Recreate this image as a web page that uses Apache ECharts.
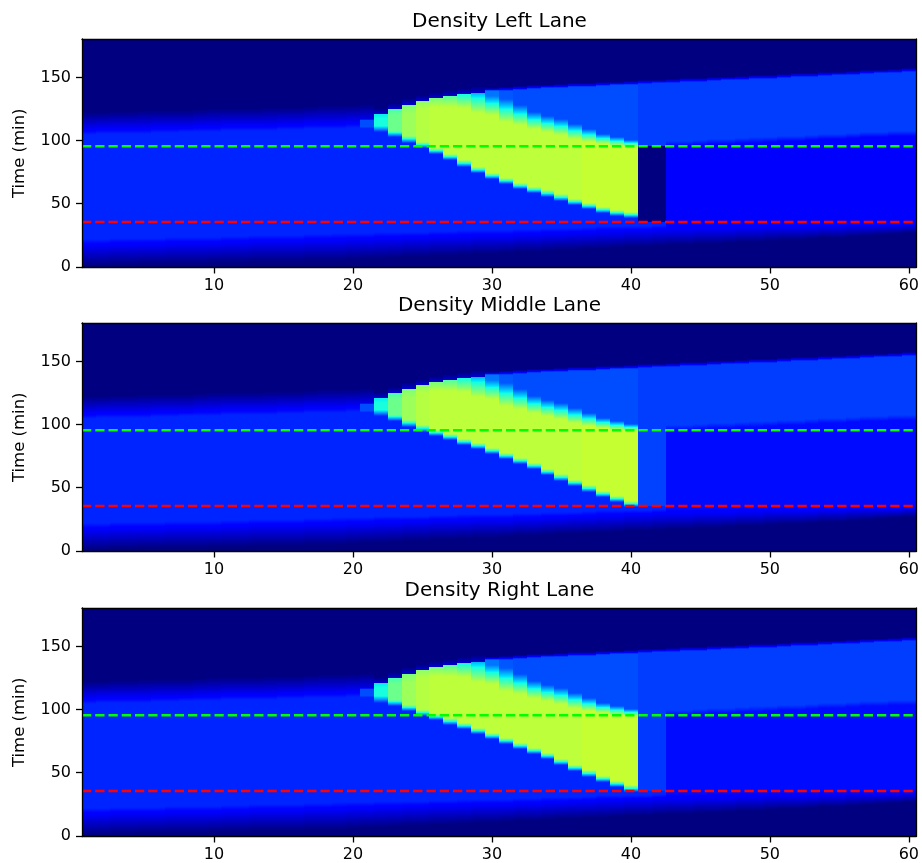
<!DOCTYPE html>
<html>
<head>
<meta charset="utf-8">
<title>Density per lane</title>
<script src="https://cdn.jsdelivr.net/npm/echarts@6.0.0/dist/echarts.min.js"></script>
<style>
  html, body { margin: 0; padding: 0; background: #fff; }
  #chart { width: 922px; height: 863px; }
</style>
</head>
<body>
<div id="chart"></div>
<script>
// titles and ticks
var laneTitles = ["Density Left Lane", "Density Middle Lane", "Density Right Lane"];
var xTicks = [10, 20, 30, 40, 50, 60];
var yTicks = [0, 50, 100, 150];

// dashed reference times (min)
var upperLine = 95.5;
var lowerLine = 35.5;

// density levels (0..1 on the jet scale)
var freeFlow = 0.16;
var dischargeFlow = 0.185;
var laneGap = [0, 0.19, 0.18];        // cells 41-42 between the dashed lines
var laneDown = [0.125, 0.135, 0.135]; // cells 43-60 below the discharge wave

// cells 1..60 : time where the bottom stays dark / where free flow is reached
var bottomNavy = [1, 1, 1.5, 1.5, 2, 2, 2, 2.5, 2.5, 3,
  3, 3, 3.5, 3.5, 4, 4, 4.5, 5, 5, 5.5,
  6, 6.5, 7, 7.5, 8, 8.5, 9, 9.5, 10, 10.5,
  11, 11.5, 12, 12.5, 13, 13.5, 14, 14.5, 15, 15.5,
  16, 16.5, 17, 17.5, 18, 18.5, 19, 19.5, 20, 20.5,
  21, 21.5, 22, 22.5, 23, 24, 24.5, 25, 26, 27];
var bottomFull = [22, 22, 22.5, 22.5, 23, 23, 23.5, 23.5, 24, 24,
  24.5, 24.5, 25, 25, 25.5, 25.5, 26, 26, 26.5, 27,
  27, 27.5, 27.5, 28, 28, 28.5, 28.5, 29, 29, 29.5,
  29.5, 30, 30, 30.5, 31, 31, 31.5, 32, 32, 32.5,
  32.5, 33, 33, 33.5, 33.5, 34, 34, 34.5, 34.5, 35,
  35, 35, 35, 35.5, 35.5, 35.5, 35.5, 35.5, 35.5, 35.5];

// cells 1..21 : end of free flow at the top, and where it is dark again
var freeTopStart = [104.5, 105, 105, 105.5, 105.5, 106, 106, 106.5, 106.5, 107,
  107.5, 107.5, 108, 108, 108.5, 108.5, 109, 109, 109.5, 110, 110];
var freeTopEnd = [123, 123, 123.5, 123.5, 124, 124, 124.5, 124.5, 125, 125.5,
  125.5, 126, 126, 126.5, 127, 127, 127.5, 128, 128, 128.5, 129];
// small patch in cell 21
var bumpStart = 111, bumpEnd = 116.5, bumpValue = 0.2;

// cells 22..60 : upper edge of the jam / discharge wave
var queueTop = [121, 125, 128.5, 131.5, 133.5, 135.3, 136.8, 138, 139,
  139.7, 140.3, 140.8, 141.3, 141.8, 142.3, 142.8, 143.3, 143.8, 144.3,
  144.8, 145.3, 145.8, 146.3, 146.8, 147.3, 147.7, 148.2, 148.7, 149.2,
  149.7, 150.2, 150.7, 151.2, 151.7, 152.2, 152.7, 153.2, 153.7, 154.2];

// cells 22..40 : lower edge of the jam, per lane
var queueBottom = [
  [109, 105, 101, 96.5, 92, 87, 82, 77, 72, 68, 64, 61, 58, 55, 51.5, 48, 45, 42.5, 41],
  [109, 105, 101, 97, 93.5, 90, 86.5, 83, 79, 75, 71, 67, 62.5, 58, 53.5, 49.5, 45, 41, 37],
  [108, 105.5, 101.5, 97.5, 94, 90.5, 87, 83, 79, 75, 71, 67, 63, 58.5, 54, 49.5, 45, 41, 37.5]
];
// cells 22..40 : jam level, level at its top, and where/how wide it fades
var queuePeak = [0.38, 0.48, 0.54, 0.57, 0.58, 0.58, 0.58, 0.58, 0.58,
  0.58, 0.58, 0.58, 0.58, 0.58, 0.58, 0.59, 0.59, 0.59, 0.59];
var queueCap = [0.36, 0.44, 0.5, 0.52, 0.5, 0.45, 0.38, 0.3, 0.24,
  0.21, 0.2, 0.2, 0.2, 0.2, 0.2, 0.2, 0.2, 0.2, 0.2];
var capMid = [118, 122, 125, 128, 130, 131, 131, 130, 127.5,
  124, 120, 116, 113.3, 110.6, 107.3, 104, 101.3, 99.4, 97.4];
var capHalf = [2, 2, 3, 3, 3, 4, 5, 8, 7.5,
  9, 8, 6.5, 6.5, 6.5, 6, 5.3, 4, 3.3, 2.7];

// cells 43..60 : lower edge of the discharge wave
var dischargeLow = [95.5, 96, 96.5, 97, 97.5, 98, 98.5, 99, 99.5,
  100, 100.5, 101, 101.5, 102, 102.5, 103, 103.5, 104];

var FONT = "DejaVu Sans";

// matplotlib jet
var JET = {
  r: [[0, 0], [0.35, 0], [0.66, 1], [0.89, 1], [1, 0.5]],
  g: [[0, 0], [0.125, 0], [0.375, 1], [0.64, 1], [0.91, 0], [1, 0]],
  b: [[0, 0.5], [0.11, 1], [0.34, 1], [0.65, 0], [1, 0]]
};
var BREAKS = [0.11, 0.125, 0.34, 0.35, 0.375, 0.64, 0.65, 0.66, 0.89, 0.91];

function chan(pts, v) {
  for (var i = 1; i < pts.length; i++) {
    if (v <= pts[i][0]) {
      var a = pts[i - 1], b = pts[i];
      return a[1] + (b[1] - a[1]) * (v - a[0]) / (b[0] - a[0]);
    }
  }
  return pts[pts.length - 1][1];
}
function jet(v) {
  v = Math.max(0, Math.min(1, v));
  return "rgb(" + Math.round(255 * chan(JET.r, v)) + "," +
    Math.round(255 * chan(JET.g, v)) + "," + Math.round(255 * chan(JET.b, v)) + ")";
}
// v0 at the bottom of the cell, v1 at its top
function fillFor(v0, v1) {
  if (Math.abs(v1 - v0) < 1e-6) return jet(v0);
  var lo = Math.min(v0, v1), hi = Math.max(v0, v1);
  var stops = [{ offset: 0, color: jet(v1) }];
  var mids = BREAKS.filter(function (b) { return b > lo && b < hi; })
    .map(function (b) { return { offset: (b - v1) / (v0 - v1), color: jet(b) }; });
  mids.sort(function (a, b) { return a.offset - b.offset; });
  stops = stops.concat(mids);
  stops.push({ offset: 1, color: jet(v0) });
  return new echarts.graphic.LinearGradient(0, 0, 0, 1, stops);
}

// one column of the picture as [time, level] stops, cut into pieces
function laneSegments(k) {
  var segs = [];
  for (var c = 1; c <= 60; c++) {
    var i = c - 1;
    var b0 = bottomNavy[i], b2 = bottomFull[i];
    var low = c <= 42 ? freeFlow : laneDown[k];
    var s = [[-0.5, 0], [b0, 0], [b0 + 0.7 * (b2 - b0), 0.1], [b2, low]];
    if (c <= 21) {
      var u1 = freeTopStart[i], u2 = freeTopEnd[i];
      s.push([u1, freeFlow]);
      if (c === 21) {
        s.push([bumpStart, bumpValue], [bumpEnd, bumpValue], [bumpEnd + 1, 0.09], [u2, 0]);
      } else {
        s.push([u1 + 0.3 * (u2 - u1), 0.1], [u2, 0]);
      }
    } else if (c <= 40) {
      var j = c - 22;
      var qb = queueBottom[k][j], qt = queueTop[j];
      var vy = queuePeak[j], vt = queueCap[j], tu = capMid[j], wu = capHalf[j];
      s.push([qb - 2.5, freeFlow], [qb + 2.5, vy], [tu - wu, vy], [tu + wu, vt], [qt, vt]);
      if (vt > 0.25) s.push([qt, 0.07], [qt + 5, 0]);
      else s.push([qt + 3, 0]);
    } else {
      var qt2 = queueTop[c - 22];
      if (c <= 42) {
        s.push([lowerLine, freeFlow], [lowerLine, laneGap[k]], [upperLine, laneGap[k]], [upperLine, dischargeFlow]);
      } else {
        var dl = dischargeLow[c - 43];
        s.push([dl, low], [dl + 4, dischargeFlow]);
      }
      s.push([qt2, dischargeFlow], [qt2 + 3, 0]);
    }
    s.push([180.5, 0]);
    for (var n = 1; n < s.length; n++) {
      if (s[n][0] > s[n - 1][0]) segs.push([c, s[n - 1][0], s[n][0], s[n - 1][1], s[n][1]]);
    }
  }
  return segs;
}

function renderCell(params, api) {
  var c = api.value(0);
  var a = api.coord([c - 0.5, api.value(2)]);
  var b = api.coord([c + 0.5, api.value(1)]);
  var x0 = Math.round(a[0]), x1 = Math.round(b[0]);
  var y0 = Math.round(a[1]), y1 = Math.round(b[1]);
  if (y1 <= y0) return null;
  return {
    type: "rect",
    shape: { x: x0, y: y0, width: x1 - x0, height: y1 - y0 },
    style: { fill: fillFor(api.value(3), api.value(4)) }
  };
}

var chart = echarts.init(document.getElementById("chart"));
var grids = [], xAxes = [], yAxes = [], series = [], texts = [];
var gridTops = [39, 323, 608];

laneTitles.forEach(function (title, k) {
  var top = gridTops[k];
  grids.push({ left: 82, top: top, width: 835, height: 228.5 });
  var frame = { show: true, onZero: false, lineStyle: { color: "#000", width: 1.3 } };
  var tick = { color: "#000", width: 1.3 };
  var label = { fontSize: 16, color: "#000", fontFamily: FONT };
  xAxes.push({
    gridIndex: k, type: "value", min: 0.5, max: 60.5, position: "bottom", z: 5,
    axisLine: frame,
    axisTick: { show: true, length: 6, customValues: xTicks, lineStyle: tick },
    axisLabel: Object.assign({ customValues: xTicks, margin: 10 }, label),
    splitLine: { show: false }
  });
  xAxes.push({
    gridIndex: k, type: "value", min: 0.5, max: 60.5, position: "top", z: 5,
    axisLine: frame, axisTick: { show: false }, axisLabel: { show: false }, splitLine: { show: false }
  });
  yAxes.push({
    gridIndex: k, type: "value", min: -0.5, max: 180.5, position: "left", z: 5,
    name: "Time (min)", nameLocation: "middle", nameGap: 54,
    nameTextStyle: { fontSize: 16.5, color: "#000", fontFamily: FONT },
    axisLine: frame,
    axisTick: { show: true, length: 6, customValues: yTicks, lineStyle: tick },
    axisLabel: Object.assign({ customValues: yTicks, margin: 11 }, label),
    splitLine: { show: false }
  });
  yAxes.push({
    gridIndex: k, type: "value", min: -0.5, max: 180.5, position: "right", z: 5,
    axisLine: frame, axisTick: { show: false }, axisLabel: { show: false }, splitLine: { show: false }
  });
  series.push({
    type: "custom", xAxisIndex: 2 * k, yAxisIndex: 2 * k,
    renderItem: renderCell, data: laneSegments(k),
    clip: true, silent: true, progressive: 0
  });
  series.push({
    type: "line", xAxisIndex: 2 * k, yAxisIndex: 2 * k, z: 4,
    data: [[0.5, upperLine], [60.5, upperLine]], symbol: "none", silent: true,
    lineStyle: { color: "#00ff00", width: 2.5, type: [9.25, 4] }
  });
  series.push({
    type: "line", xAxisIndex: 2 * k, yAxisIndex: 2 * k, z: 4,
    data: [[0.5, lowerLine], [60.5, lowerLine]], symbol: "none", silent: true,
    lineStyle: { color: "#ff0000", width: 2.5, type: [9.25, 4] }
  });
  texts.push({
    type: "text", x: 499.5, y: top - 17,
    style: { text: title, fontSize: 20, fontFamily: FONT, fill: "#000",
      textAlign: "center", textVerticalAlign: "middle" }
  });
});

chart.setOption({
  animation: false,
  backgroundColor: "#fff",
  grid: grids,
  xAxis: xAxes,
  yAxis: yAxes,
  series: series,
  graphic: texts
});
</script>
</body>
</html>
